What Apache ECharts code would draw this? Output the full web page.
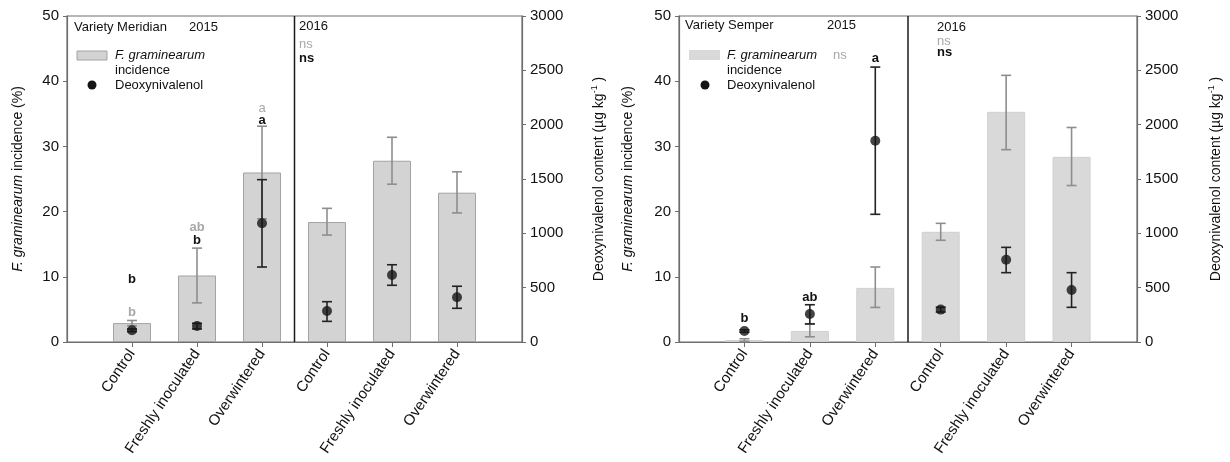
<!DOCTYPE html>
<html><head><meta charset="utf-8">
<script src="https://cdn.jsdelivr.net/npm/echarts@6/dist/echarts.min.js"></script>
<style>html,body{margin:0;padding:0;background:#fff}#c{width:1230px;height:462px}</style>
</head><body><div id="c"></div>
<script>
const categories = ['Control', 'Freshly inoculated', 'Overwintered', 'Control', 'Freshly inoculated', 'Overwintered'];
const incidenceTicks = [0, 10, 20, 30, 40, 50];
const donTicks = [0, 500, 1000, 1500, 2000, 2500, 3000];

const meridianInc = [2.9, 10.2, 26.0, 18.4, 27.8, 22.9];
const meridianIncLow = [2.5, 6.0, 18.9, 16.4, 24.2, 19.8];
const meridianIncHigh = [3.3, 14.4, 33.1, 20.5, 31.4, 26.1];
const meridianDon = [108, 147, 1092, 285, 617, 411];
const meridianDonLow = [96, 120, 690, 190, 522, 310];
const meridianDonHigh = [120, 172, 1494, 371, 711, 513];

const semperInc = [0.3, 1.7, 8.3, 16.9, 35.3, 28.4];
const semperIncLow = [0.1, 0.8, 5.3, 15.6, 29.5, 24.0];
const semperIncHigh = [0.5, 2.8, 11.5, 18.2, 40.9, 32.9];
const semperDon = [101, 258, 1852, 298, 757, 479];
const semperDonLow = [90, 166, 1175, 276, 638, 319];
const semperDonHigh = [112, 343, 2530, 320, 871, 638];

const FONT = "'Liberation Sans', Arial, sans-serif";
const chart = echarts.init(document.getElementById('c'));

const axisCats = [''].concat(categories, ['']);
const pad = a => ['-'].concat(a, ['-']);
const errData = (lo, hi) => lo.map((l, i) => [i + 1, l, hi[i]]);
const ptData = v => v.map((d, i) => [i + 1, d]);

function errRender(color, half, lw) {
  return function (params, api) {
    const x = api.value(0);
    const a = api.coord([x, api.value(1)]);
    const b = api.coord([x, api.value(2)]);
    const st = { stroke: color, lineWidth: lw };
    return { type: 'group', children: [
      { type: 'line', shape: { x1: a[0], y1: a[1], x2: b[0], y2: b[1] }, style: st },
      { type: 'line', shape: { x1: a[0] - half, y1: a[1], x2: a[0] + half, y2: a[1] }, style: st },
      { type: 'line', shape: { x1: b[0] - half, y1: b[1], x2: b[0] + half, y2: b[1] }, style: st }
    ]};
  };
}
function dividerRender(params, api) {
  const p3 = api.coord([3, 0]), p4 = api.coord([4, 0]);
  const x = (p3[0] + p4[0]) / 2;
  const cs = params.coordSys;
  return { type: 'line', shape: { x1: x, y1: cs.y, x2: x, y2: cs.y + cs.height }, style: { stroke: '#1a1a1a', lineWidth: 1.5 } };
}

const grids = [
  { left: 67, top: 16, width: 455, height: 326 },
  { left: 679, top: 16, width: 458, height: 326 }
];
const axisColor = '#6e6e6e';
function xAxisFor(gi) {
  return {
    type: 'category', gridIndex: gi, data: axisCats, boundaryGap: false,
    axisLine: { lineStyle: { color: axisColor, width: 1.2 } },
    axisTick: { interval: (i) => i > 0 && i < axisCats.length - 1, length: 5, lineStyle: { color: axisColor } },
    axisLabel: { interval: 0, rotate: 56, fontSize: 15, color: '#111', fontFamily: FONT, margin: 9 },
    splitLine: { show: false }
  };
}
function yLeft(gi, gap) {
  return {
    type: 'value', gridIndex: gi, min: incidenceTicks[0], max: incidenceTicks[incidenceTicks.length - 1], interval: 10,
    axisLine: { show: true, lineStyle: { color: axisColor, width: 1.2 } },
    axisTick: { show: true, length: 4, lineStyle: { color: axisColor } },
    axisLabel: { fontSize: 15, color: '#111', fontFamily: FONT, margin: 8, formatter: v => String(v) },
    splitLine: { show: false },
    name: '{i|F. graminearum} incidence (%)', nameLocation: 'middle', nameRotate: 90, nameGap: gap,
    nameTextStyle: { fontSize: 14, color: '#111', fontFamily: FONT, rich: { i: { fontSize: 14, fontStyle: 'italic', color: '#111', fontFamily: FONT } } }
  };
}
function yRight(gi, gap) {
  return {
    type: 'value', gridIndex: gi, position: 'right', min: donTicks[0], max: donTicks[donTicks.length - 1], interval: 500,
    axisLine: { show: true, lineStyle: { color: axisColor, width: 1.2 } },
    axisTick: { show: true, length: 4, lineStyle: { color: axisColor } },
    axisLabel: { fontSize: 15, color: '#111', fontFamily: FONT, margin: 8, formatter: v => String(v) },
    splitLine: { show: false },
    name: 'Deoxynivalenol content (µg kg{s|-1} )', nameLocation: 'middle', nameRotate: 90, nameGap: gap,
    nameTextStyle: { fontSize: 14, color: '#111', fontFamily: FONT, lineHeight: 18,
      rich: { s: { fontSize: 9, color: '#111', fontFamily: FONT, verticalAlign: 'top', lineHeight: 18 } } }
  };
}

function panelSeries(gi, inc, incLo, incHi, don, donLo, donHi, barStyle, errGray) {
  const xi = gi, yi = gi * 2, yj = gi * 2 + 1;
  return [
    { type: 'bar', xAxisIndex: xi, yAxisIndex: yi, data: pad(inc), barWidth: 38, itemStyle: barStyle, silent: true },
    { type: 'custom', xAxisIndex: xi, yAxisIndex: yi, data: errData(incLo, incHi), renderItem: errRender(errGray, 5, 1.6), z: 3, silent: true },
    { type: 'custom', xAxisIndex: xi, yAxisIndex: yj, data: errData(donLo, donHi), renderItem: errRender('#222', 5, 1.6), z: 4, silent: true },
    { type: 'scatter', xAxisIndex: xi, yAxisIndex: yj, data: ptData(don), symbol: 'circle', symbolSize: 10, itemStyle: { color: '#151515' }, z: 5, silent: true },
    { type: 'custom', xAxisIndex: xi, yAxisIndex: yi, data: [[0, 0]], renderItem: dividerRender, z: 6, silent: true }
  ];
}

const GRAY = '#a8a8a8';
const txt = (x, y, text, opt) => ({ type: 'text', x: x, y: y, z: 10, style: Object.assign({ text: text, fontSize: 13, fontFamily: FONT, fill: '#111', verticalAlign: 'middle', align: 'left' }, opt || {}) });
const ctr = (x, y, text, opt) => txt(x, y, text, Object.assign({ align: 'center', fontWeight: 'bold' }, opt || {}));

chart.setOption({
  animation: false,
  backgroundColor: '#fff',
  textStyle: { fontFamily: FONT },
  grid: grids.map(g => Object.assign({ show: true, borderColor: axisColor, borderWidth: 1.2, backgroundColor: 'transparent' }, g)),
  xAxis: [xAxisFor(0), xAxisFor(1)],
  yAxis: [yLeft(0, 42), yRight(0, 68), yLeft(1, 44), yRight(1, 70)],
  series: [].concat(
    panelSeries(0, meridianInc, meridianIncLow, meridianIncHigh, meridianDon, meridianDonLow, meridianDonHigh,
      { color: '#d3d3d3', borderColor: '#a3a3a3', borderWidth: 1 }, '#8e8e8e'),
    panelSeries(1, semperInc, semperIncLow, semperIncHigh, semperDon, semperDonLow, semperDonHigh,
      { color: '#d9d9d9', borderColor: '#d0d0d0', borderWidth: 1 }, '#8e8e8e')
  )
});

// category centres from the axes, for the significance letters
const cx = (gi, i) => chart.convertToPixel({ xAxisIndex: gi }, i + 1);

const graphics = [
  // Left panel
  txt(74, 27, 'Variety Meridian'), txt(189, 27, '2015'),
  { type: 'rect', x: 77, y: 51, shape: { width: 30, height: 9 }, style: { fill: '#d3d3d3', stroke: '#a3a3a3', lineWidth: 1 } },
  txt(115, 55, 'F. graminearum', { fontStyle: 'italic' }), txt(115, 70, 'incidence'),
  { type: 'circle', x: 92, y: 85, shape: { r: 4.5 }, style: { fill: '#151515' } },
  txt(115, 85, 'Deoxynivalenol'),
  txt(299, 26, '2016'), txt(299, 44, 'ns', { fill: GRAY }), txt(299, 58, 'ns', { fontWeight: 'bold' }),
  ctr(cx(0, 0), 279, 'b'), ctr(cx(0, 0), 312, 'b', { fill: GRAY }),
  ctr(cx(0, 1), 227, 'ab', { fill: GRAY }), ctr(cx(0, 1), 240, 'b'),
  ctr(cx(0, 2), 108, 'a', { fill: GRAY, fontWeight: 'normal' }), ctr(cx(0, 2), 120, 'a'),
  // Right panel
  txt(685, 25, 'Variety Semper'), txt(827, 25, '2015'),
  { type: 'rect', x: 689, y: 50, shape: { width: 31, height: 10 }, style: { fill: '#d9d9d9' } },
  txt(727, 55, 'F. graminearum', { fontStyle: 'italic' }), txt(833, 55, 'ns', { fill: GRAY }), txt(727, 70, 'incidence'),
  { type: 'circle', x: 705, y: 85, shape: { r: 4.5 }, style: { fill: '#151515' } },
  txt(727, 85, 'Deoxynivalenol'),
  txt(937, 27, '2016'), txt(937, 41, 'ns', { fill: GRAY }), txt(937, 52, 'ns', { fontWeight: 'bold' }),
  ctr(cx(1, 0), 318, 'b'), ctr(cx(1, 1), 297, 'ab'), ctr(cx(1, 2), 58, 'a')
];
chart.setOption({ graphic: graphics });
</script></body></html>
